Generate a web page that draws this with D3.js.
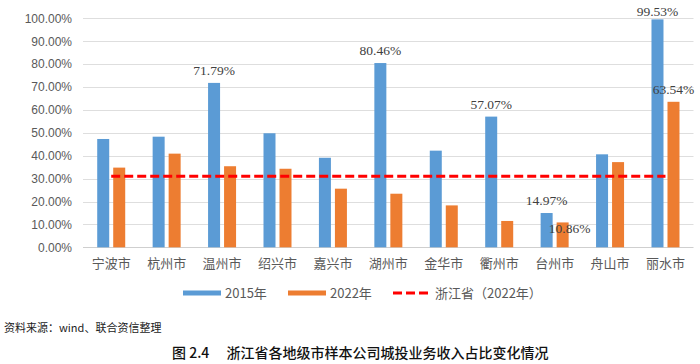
<!DOCTYPE html>
<html>
<head>
<meta charset="utf-8">
<script src="https://cdn.jsdelivr.net/npm/d3@7"></script>
<style>
  body { margin: 0; background: #fff; }
  svg { display: block; }
</style>
</head>
<body>
<div id="chart"></div>
<script>
var cities = ["宁波市", "杭州市", "温州市", "绍兴市", "嘉兴市", "湖州市", "金华市", "衢州市", "台州市", "舟山市", "丽水市"];
var seriesNames = ["2015年", "2022年"];
var values2015 = [47.3, 48.3, 71.79, 49.8, 39.1, 80.46, 42.2, 57.07, 14.97, 40.6, 99.53];
var values2022 = [34.8, 40.9, 35.4, 34.3, 25.6, 23.4, 18.3, 11.5, 10.86, 37.2, 63.54];
var provinceName = "浙江省（2022年）";
var provinceValue = 31.0;
var yTicks = [0, 10, 20, 30, 40, 50, 60, 70, 80, 90, 100];
// which bars carry a value label
var labeled2015 = ["温州市", "湖州市", "衢州市", "台州市", "丽水市"];
var labeled2022 = ["台州市", "丽水市"];
var sourceText = "资料来源：wind、联合资信整理";
var captionText = "图 2.4　 浙江省各地级市样本公司城投业务收入占比变化情况";

var W = 700, H = 364;
var colors = { "2015年": "#5B9BD5", "2022年": "#ED7D31" };

var svg = d3.select("#chart").append("svg")
  .attr("width", W).attr("height", H);

var x = d3.scaleBand().domain(cities).range([83.5, 693.2]).paddingInner(0).paddingOuter(0);
var x1 = d3.scaleBand().domain(seriesNames).range([-14, 14]).paddingInner(0.25);
var y = d3.scaleLinear().domain([0, 100]).range([247.3, 18.3]);

// gridlines
svg.append("g").selectAll("line")
  .data(yTicks).enter().append("line")
  .attr("x1", 83).attr("x2", 693.5)
  .attr("y1", function (d) { return Math.round(y(d)) + 0.5; })
  .attr("y2", function (d) { return Math.round(y(d)) + 0.5; })
  .attr("stroke", function (d) { return d == 0 ? "#cfcfcf" : "#dedede"; })
  .attr("stroke-width", 1);

// y axis labels
var yAxis = d3.axisLeft(y).tickValues(yTicks).tickSize(0).tickPadding(0)
  .tickFormat(function (d) { return d.toFixed(2) + "%"; });
var yg = svg.append("g").attr("transform", "translate(72,0)").call(yAxis);
yg.select(".domain").remove();
yg.selectAll("text")
  .attr("fill", "#595959")
  .style("font-family", "'Liberation Sans', Arial, sans-serif")
  .style("font-size", "12px");

// x axis labels
var xAxis = d3.axisBottom(x).tickSize(0).tickPadding(0);
var xg = svg.append("g").attr("transform", "translate(0,258)").call(xAxis);
xg.select(".domain").remove();
xg.selectAll("text")
  .attr("fill", "#595959")
  .attr("dy", "0.75em")
  .style("font-family", "'Noto Sans CJK SC', sans-serif")
  .style("font-size", "13px");

// bars
var rows = cities.map(function (c, i) {
  return { city: c, vals: [
    { s: "2015年", v: values2015[i], city: c },
    { s: "2022年", v: values2022[i], city: c }
  ] };
});

var group = svg.append("g").selectAll("g")
  .data(rows).enter().append("g")
  .attr("transform", function (d) { return "translate(" + (x(d.city) + x.bandwidth() / 2) + ",0)"; });

group.selectAll("rect")
  .data(function (d) { return d.vals; })
  .enter().append("rect")
  .attr("x", function (d) { return x1(d.s); })
  .attr("width", x1.bandwidth())
  .attr("y", function (d) { return y(d.v); })
  .attr("height", function (d) { return y(0) - y(d.v); })
  .attr("fill", function (d) { return colors[d.s]; });

// province reference line
svg.append("line")
  .attr("x1", x(cities[0]) + x.bandwidth() / 2)
  .attr("x2", x(cities[cities.length - 1]) + x.bandwidth() / 2)
  .attr("y1", y(provinceValue)).attr("y2", y(provinceValue))
  .attr("stroke", "#FF0000")
  .attr("stroke-width", 3)
  .attr("stroke-dasharray", "9,4");

// value labels
var labelShift = { "丽水市2015年": [0, 5], "台州市2022年": [7, 19] };
group.selectAll("text.val")
  .data(function (d) {
    return d.vals.filter(function (v) {
      return (v.s == "2015年" ? labeled2015 : labeled2022).indexOf(v.city) >= 0;
    });
  })
  .enter().append("text")
  .attr("class", "val")
  .attr("x", function (d) {
    var s = labelShift[d.city + d.s] || [0, 0];
    return x1(d.s) + x1.bandwidth() / 2 + s[0];
  })
  .attr("y", function (d) {
    var s = labelShift[d.city + d.s] || [0, 0];
    return y(d.v) - 8 + s[1];
  })
  .attr("text-anchor", "middle")
  .attr("fill", "#404040")
  .style("font-family", "'Liberation Serif', 'Times New Roman', serif")
  .style("font-size", "13.5px")
  .text(function (d) { return d.v.toFixed(2) + "%"; });

// legend
var legend = svg.append("g").attr("transform", "translate(0,293)");
var legItems = [
  { name: seriesNames[0], x: 183, type: "rect", color: colors["2015年"] },
  { name: seriesNames[1], x: 288, type: "rect", color: colors["2022年"] },
  { name: provinceName, x: 393, type: "line", color: "#FF0000" }
];
legItems.forEach(function (it) {
  if (it.type == "rect") {
    legend.append("rect").attr("x", it.x).attr("y", -2.5).attr("width", 38).attr("height", 5).attr("fill", it.color);
  } else {
    legend.append("line").attr("x1", it.x).attr("x2", it.x + 38).attr("y1", 0).attr("y2", 0)
      .attr("stroke", it.color).attr("stroke-width", 3).attr("stroke-dasharray", "9,4");
  }
  legend.append("text").attr("x", it.x + 42).attr("y", 0).attr("dy", "0.35em")
    .attr("fill", "#595959")
    .style("font-family", "'Noto Sans CJK SC', sans-serif")
    .style("font-size", "13px")
    .text(it.name);
});

// source + caption
svg.append("text").attr("x", 4).attr("y", 328).attr("dy", "0.35em")
  .attr("fill", "#222")
  .style("font-family", "'Noto Sans CJK SC', sans-serif")
  .style("font-size", "11px")
  .text(sourceText);

svg.append("text").attr("x", 172).attr("y", 353).attr("dy", "0.35em")
  .attr("fill", "#111")
  .style("font-family", "'Noto Sans CJK SC', sans-serif")
  .style("font-size", "14px")
  .style("font-weight", "500")
  .text(captionText);
</script>
</body>
</html>
